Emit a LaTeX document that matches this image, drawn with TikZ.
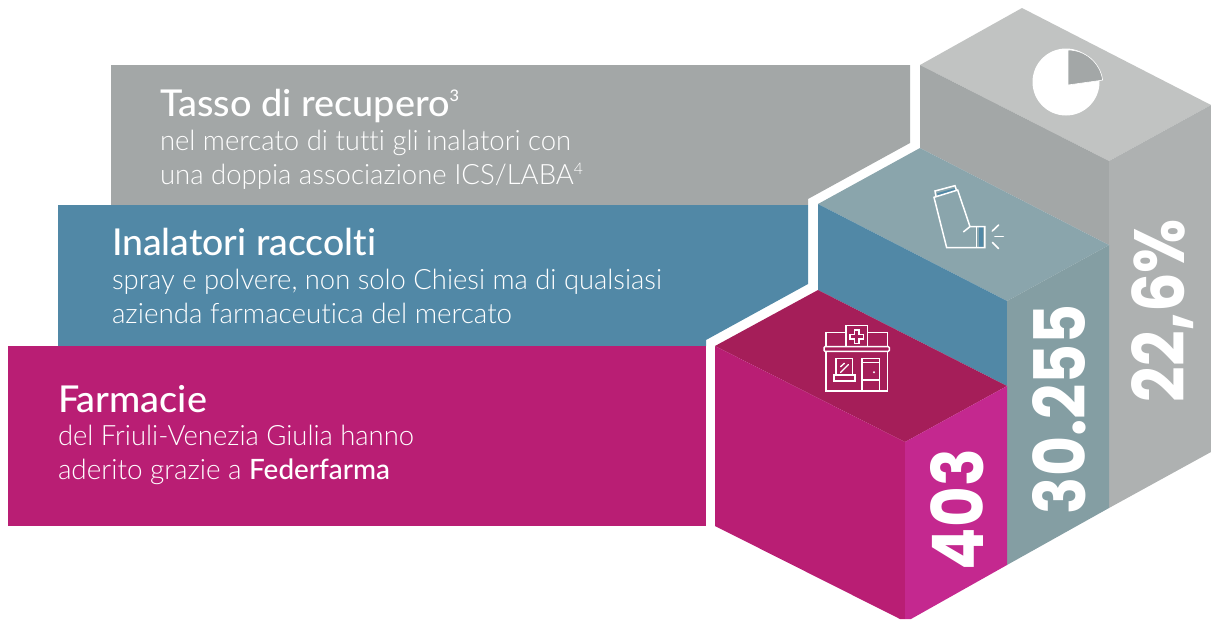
\documentclass[tikz,border=0pt]{standalone}
\usepackage{fontspec}
\usepackage{graphicx}
\setmainfont{Lato Light}[Ligatures=NoCommon]
\newfontfamily\headfont{Lato Medium}[Ligatures=NoCommon]
\newfontfamily\numfont{Poppins}[BoldFont={Poppins Bold}]
\definecolor{gTop}{HTML}{C1C3C2}
\definecolor{gLeft}{HTML}{A3A7A7}
\definecolor{gRight}{HTML}{AEB1B1}
\definecolor{tTop}{HTML}{8AA5AC}
\definecolor{tRight}{HTML}{849EA3}
\definecolor{bBlue}{HTML}{5188A6}
\definecolor{mTop}{HTML}{A51E59}
\definecolor{mLeft}{HTML}{B91E74}
\definecolor{mRight}{HTML}{C4288F}
\newcommand{\fw}[2]{\resizebox*{#1pt}{\totalheight}{#2}}
\newcommand{\hd}{\headfont\fontsize{37}{37}\selectfont}
\newcommand{\bd}{\fontsize{28}{28}\selectfont}
\newcommand{\sups}[2]{\raisebox{#1}{\fontsize{16}{16}\selectfont #2}}
\tikzset{
  txt/.style={text=white,anchor=base west,inner sep=0pt,outer sep=0pt},
  num/.style={text=white,anchor=base west,inner sep=0pt,outer sep=0pt,rotate=90},
  ico/.style={draw=white,line width=1.5pt,line join=miter},
  ray/.style={draw=white,line width=1.6pt,line cap=round}
}
\begin{document}
\begin{tikzpicture}[x=1pt,y=-1pt]
\useasboundingbox (0,0) rectangle (1211,619);
% bars
\fill[gLeft] (111,65) -- (910,65) -- (910,143) -- (808,199) -- (808,205) -- (111,205) -- cycle;
\fill[bBlue] (58,205) -- (808,205) -- (808,284) -- (706,340) -- (706,346) -- (58,346) -- cycle;
\fill[mLeft] (8,346) rectangle (706,526);
% gray block
\fill[gTop] (920,65) -- (1022,8) -- (1211,105) -- (1109,161) -- cycle;
\fill[gLeft] (920,65) -- (1109,161) -- (1109,245) -- (920,148) -- cycle;
\fill[gRight] (1109,161) -- (1211,105) -- (1211,452) -- (1109,508) -- cycle;
% teal block
\fill[tTop] (818,204) -- (920,148) -- (1109,245) -- (1007,301) -- cycle;
\fill[bBlue] (818,204) -- (1007,301) -- (1007,386) -- (818,290) -- cycle;
\fill[tRight] (1007,301) -- (1109,245) -- (1109,508) -- (1007,565) -- cycle;
% magenta block
\fill[mTop] (715,346) -- (818,290) -- (1007,386) -- (905,442) -- cycle;
\fill[mLeft] (715,346) -- (905,442) -- (905,619) -- (900,619) -- (715,526) -- cycle;
\fill[mRight] (905,442) -- (1007,386) -- (1007,565) -- (911,619) -- (905,619) -- cycle;
% pie
\fill[white] (1066,82) circle[radius=33.5];
\fill[gLeft,draw=white,line width=0.6pt] (1068,85) -- (1068,50) arc[start angle=-90,end angle=-8,radius=35] -- cycle;
% icons
\begin{scope}[shift={(800,170)},x=0.3333pt,y=-0.3333pt]
% inhaler
\fill[bBlue] (537,172) rectangle (550,231);
\fill[bBlue] (411,70) -- (464,55) -- (466,62) -- (413,77) -- cycle;
\draw[ico] (490,186) -- (510,170) -- (473,60) -- (402,82) -- (440,233) -- (555,233) -- (555,170) -- (510,170);
\draw[ico] (530,170) -- (530,233);
\draw[ico] (408,79) -- (405,63) -- (465,47) -- (470,62);
\draw[ray] (577,183) -- (596,165);
\draw[ray] (585,200) -- (610,200);
\draw[ray] (577,217) -- (596,236);
% pharmacy
\draw[ico] (138,530) -- (138,467) -- (202,467) -- (202,530);
\draw[ico] (78,530) -- (78,488) -- (138,488);
\draw[ico] (202,488) -- (262,488) -- (262,530);
\draw[ico,rounded corners=1pt] (72,530) rectangle (268,544);
\draw[ico] (78,544) -- (78,663) -- (262,663) -- (262,544);
\draw[ico] (163,480) -- (177,480) -- (177,493) -- (190,493) -- (190,507) -- (177,507) -- (177,520) -- (163,520) -- (163,507) -- (150,507) -- (150,493) -- (163,493) -- cycle;
\draw[ico] (108,615) -- (108,565) -- (158,565) -- (158,615);
\draw[ico] (102,615) rectangle (165,633);
\draw[ray,line width=1.3pt] (122,607) -- (145,584);
\draw[ray,line width=1.3pt] (122,590) -- (133,580);
\draw[ico] (186,663) -- (186,565) -- (238,565) -- (238,663);
\draw[ico] (186,630) -- (238,630);
\draw[ico] (186,578) -- (238,578);
\fill[white] (222,607) circle[radius=3.5];
\end{scope}
% texts
\node[txt] (t1) at (160,116) {\fw{299}{\hd Tasso di recupero\sups{15pt}{3}}};
\node[txt] (t2) at (160,150) {\fw{411}{\bd nel mercato di tutti gli inalatori con}};
\node[txt] (t3) at (160,184) {\fw{423}{\bd una doppia associazione ICS/LABA\sups{10pt}{4}}};
\node[txt] (i1) at (112,255) {\fw{264}{\hd Inalatori raccolti}};
\node[txt] (i2) at (112,289) {\fw{550}{\bd spray e polvere, non solo Chiesi ma di qualsiasi}};
\node[txt] (i3) at (112,323) {\fw{400}{\bd azienda farmaceutica del mercato}};
\node[txt] (f1) at (58,412) {\fw{149}{\hd Farmacie}};
\node[txt] (f2) at (58,445) {\fw{356}{\bd del Friuli-Venezia Giulia hanno}};
\node[txt] (f3) at (58,479) {\fw{332}{\bd aderito grazie a {\headfont Federfarma}}};
% numbers
\node[num] (n1) at (983,570) {\fw{121}{\numfont\bfseries\fontsize{71}{71}\selectfont 403}};
\node[num] (n2) at (1085,514) {\fw{210}{\numfont\bfseries\fontsize{71}{71}\selectfont 30.255}};
\node[num] (n3) at (1184,402) {\fw{183}{\numfont\bfseries\fontsize{71}{71}\selectfont 22,6\%}};
\end{tikzpicture}
\end{document}
